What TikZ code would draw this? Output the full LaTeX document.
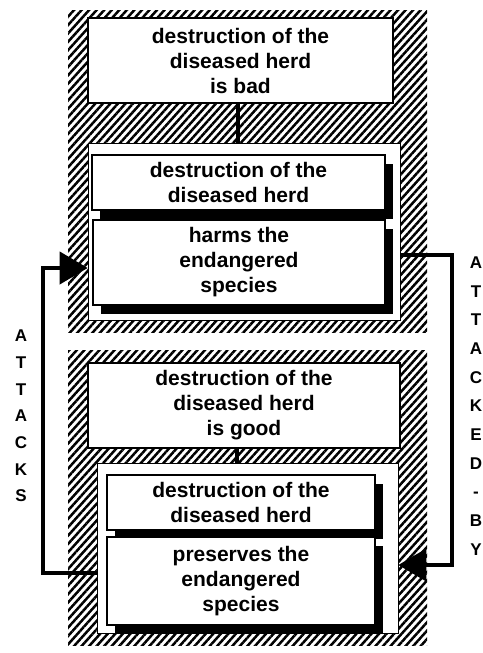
\documentclass[tikz,border=0pt]{standalone}
\usepackage{fontspec}
\setmainfont{Liberation Sans}
\usetikzlibrary{patterns.meta,shadows,arrows.meta}
\begin{document}
\begin{tikzpicture}[x=1pt,y=-1pt,
  hatch/.style={pattern={Lines[angle=48,distance=5.6pt,line width=2.5pt]},pattern color=black,inner sep=0pt},
  panel/.style={draw,line width=0.6pt,fill=white,inner sep=0pt},
  claim/.style={draw,line width=2.2pt,fill=white,inner sep=0pt,align=center,
    font=\bfseries\fontsize{21}{25}\selectfont},
  sbox/.style={claim,drop shadow={opacity=1,fill=black,shadow xshift=8pt,shadow yshift=-9pt}},
  link/.style={line width=4pt},
  attack/.style={line width=4pt,-{Triangle[length=28pt,width=32pt]}},
  sidelabel/.style={align=center,inner sep=0pt}
]
\useasboundingbox (0,0) rectangle (482,653);

% hatched frames around each argument
\node[hatch,minimum width=359pt,minimum height=322pt] (topframe) at (247.5,171) {};
\node[hatch,minimum width=359pt,minimum height=295pt] (botframe) at (247.5,497.5) {};

% first argument
\node[claim,minimum width=305pt,minimum height=85pt] (badclaim) at (240.5,60.5)
  {destruction of the\\diseased herd\\is bad};
\node[panel,minimum width=312pt,minimum height=177pt] (toppanel) at (244,231.5) {};
\node[sbox,minimum width=293pt,minimum height=55pt] (topsubj) at (238.5,182.5)
  {destruction of the\\diseased herd};
\node[sbox,minimum width=292pt,minimum height=85pt] (harms) at (239,262.5)
  {harms the\\endangered\\species};
\draw[link] (badclaim.south) ++(-3,0) coordinate (badfoot) -- (badfoot |- toppanel.north);

% second argument
\node[claim,minimum width=312pt,minimum height=85pt] (goodclaim) at (244,405.5)
  {destruction of the\\diseased herd\\is good};
\node[panel,minimum width=301pt,minimum height=170pt] (botpanel) at (247.5,548) {};
\node[sbox,minimum width=268pt,minimum height=55pt] (botsubj) at (241,502.5)
  {destruction of the\\diseased herd};
\node[sbox,minimum width=268pt,minimum height=88pt] (preserves) at (241,581)
  {preserves the\\endangered\\species};
\draw[link] (goodclaim.south) ++(-7,0) coordinate (goodfoot) -- (goodfoot |- botpanel.north);

% attack relations
\coordinate (lbend1) at (43,573);
\coordinate (lbend2) at (43,268);
\draw[attack] (botpanel.west |- lbend1) -- (lbend1) -- (lbend2) -- (toppanel.west |- lbend2);
\coordinate (rbend1) at (452,255);
\coordinate (rbend2) at (452,565);
\draw[attack] (toppanel.east |- rbend1) -- (rbend1) -- (rbend2) -- (botpanel.east |- rbend2);

\node[sidelabel,font=\bfseries\fontsize{17}{26.7}\selectfont] (attacks) at (21,416)
  {A\\T\\T\\A\\C\\K\\S};
\node[sidelabel,font=\bfseries\fontsize{17}{28.65}\selectfont] (attackedby) at (476,406)
  {A\\T\\T\\A\\C\\K\\E\\D\\-\\B\\Y};
\end{tikzpicture}
\end{document}
